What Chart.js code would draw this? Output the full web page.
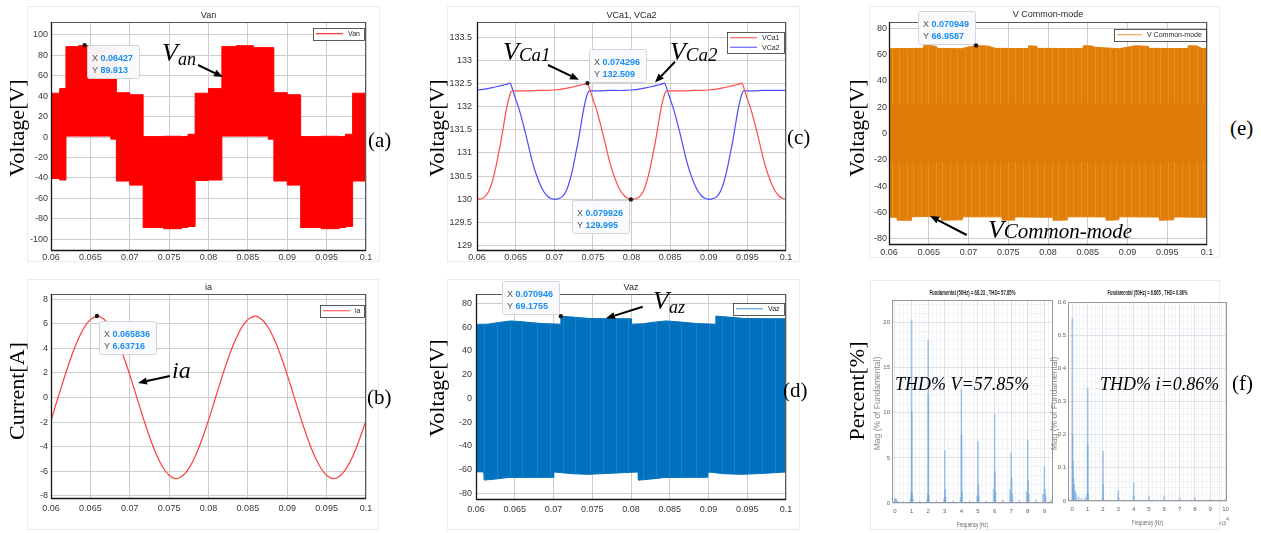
<!DOCTYPE html>
<html><head><meta charset="utf-8">
<script src="https://cdn.jsdelivr.net/npm/chart.js@4.4.1/dist/chart.umd.min.js"></script>
<style>
body{margin:0;background:#fff;width:1261px;height:533px;overflow:hidden;position:relative;}
canvas{position:absolute;}
.frame{position:absolute;border:1px solid #ececec;box-sizing:border-box;}
.yl{position:absolute;transform:translate(-50%,-50%) rotate(-90deg);white-space:nowrap;font-size:22px;font-family:"Liberation Serif",serif;color:#000;}
.pl{position:absolute;transform:translate(0,-50%);font-size:21px;font-family:"Liberation Serif",serif;color:#000;white-space:nowrap;}
</style></head>
<body>
<div class="frame" style="left:27px;top:6px;width:353px;height:256px"></div>
<div class="frame" style="left:27px;top:279px;width:352px;height:251px"></div>
<div class="frame" style="left:447px;top:6px;width:353px;height:256px"></div>
<div class="frame" style="left:447px;top:279px;width:353px;height:251px"></div>
<div class="frame" style="left:869px;top:6px;width:351px;height:252px"></div>
<div class="frame" style="left:870px;top:280px;width:350px;height:250px"></div>

<canvas id="ca"></canvas>
<canvas id="cb"></canvas>
<canvas id="cc"></canvas>
<canvas id="cd"></canvas>
<canvas id="ce"></canvas>
<canvas id="cf1"></canvas>
<canvas id="cf2"></canvas>

<div class="yl" style="left:17px;top:128px">Voltage[V]</div>
<div class="yl" style="left:437px;top:128px">Voltage[V]</div>
<div class="yl" style="left:857px;top:128px">Voltage[V]</div>
<div class="yl" style="left:17px;top:391px">Current[A]</div>
<div class="yl" style="left:437px;top:388px">Voltage[V]</div>
<div class="yl" style="left:857px;top:391px">Percent[%]</div>
<div class="pl" style="left:368px;top:140px">(a)</div>
<div class="pl" style="left:787px;top:137px">(c)</div>
<div class="pl" style="left:1230px;top:128px">(e)</div>
<div class="pl" style="left:367px;top:397px">(b)</div>
<div class="pl" style="left:783px;top:390px">(d)</div>
<div class="pl" style="left:1232px;top:383px">(f)</div>

<script>
// ---------------- DATA ----------------
const timeTicks = [0.06, 0.065, 0.07, 0.075, 0.08, 0.085, 0.09, 0.095, 0.1];

// (a) Van : PWM band, segment start times with upper / lower envelope (held until next time)
const vanT     = [0.0600, 0.0611, 0.0619, 0.0635, 0.0657, 0.0676, 0.0683, 0.0700, 0.0717, 0.0743, 0.0766, 0.0774, 0.0783, 0.0800, 0.0817, 0.0835, 0.0857, 0.0876, 0.0883, 0.0900, 0.0917, 0.0943, 0.0966, 0.0974, 0.0983, 0.1000];
const vanUpper = [43.0, 47.5, 88.6, 89.5, 87.6, 87.6, 43.5, 41.5, 0.5, 0.8, 0.5, 2.8, 43.0, 47.5, 88.6, 89.5, 87.6, 87.6, 43.5, 41.5, 0.5, 0.8, 0.5, 2.8, 43.0, 43.0];
const vanLower = [-40.5, -42.0, 1.0, 1.0, 1.0, -2.0, -43.0, -47.0, -88.5, -89.7, -88.5, -87.5, -42.5, -42.0, 1.0, 1.0, 1.0, -2.0, -43.0, -47.0, -88.5, -89.7, -88.5, -87.5, -43.0, -43.0];
const vanYTicks = [-100, -80, -60, -40, -20, 0, 20, 40, 60, 80, 100];

// (b) ia
const iaT = [0.0600,0.0605,0.0610,0.0615,0.0620,0.0625,0.0630,0.0635,0.0640,0.0645,0.0650,0.0655,0.0660,0.0665,0.0670,0.0675,0.0680,0.0685,0.0690,0.0695,
             0.0700,0.0705,0.0710,0.0715,0.0720,0.0725,0.0730,0.0735,0.0740,0.0745,0.0750,0.0755,0.0760,0.0765,0.0770,0.0775,0.0780,0.0785,0.0790,0.0795,
             0.0800,0.0805,0.0810,0.0815,0.0820,0.0825,0.0830,0.0835,0.0840,0.0845,0.0850,0.0855,0.0860,0.0865,0.0870,0.0875,0.0880,0.0885,0.0890,0.0895,
             0.0900,0.0905,0.0910,0.0915,0.0920,0.0925,0.0930,0.0935,0.0940,0.0945,0.0950,0.0955,0.0960,0.0965,0.0970,0.0975,0.0980,0.0985,0.0990,0.0995,0.1000];
const iaVal = [-1.90,-0.83,0.21,1.24,2.24,3.18,4.05,4.81,5.46,5.97,6.34,6.55,6.62,6.48,6.21,5.78,5.22,4.52,3.71,2.81,
               1.84,0.83,-0.21,-1.24,-2.24,-3.18,-4.05,-4.81,-5.46,-5.97,-6.34,-6.55,-6.60,-6.48,-6.21,-5.78,-5.22,-4.52,-3.71,-2.81,
               -1.84,-0.83,0.21,1.24,2.24,3.18,4.05,4.81,5.46,5.97,6.34,6.55,6.62,6.48,6.21,5.78,5.22,4.52,3.71,2.81,
               1.84,0.83,-0.21,-1.24,-2.24,-3.18,-4.05,-4.81,-5.46,-5.97,-6.34,-6.55,-6.60,-6.48,-6.21,-5.78,-5.22,-4.52,-3.71,-2.81,-1.88];
const iaYTicks = [-8, -6, -4, -2, 0, 2, 4, 6, 8];

// (c) VCa1, VCa2
const vca1T = [0.0600,0.0603,0.0607,0.0610,0.0613,0.0616,0.0619,0.0622,0.0625,0.0628,0.0631,0.0634,0.0637,0.0640,0.0643,
               0.0645,0.0650,0.0660,0.0670,0.0680,0.0690,0.0700,0.0710,0.0720,0.0730,0.0738,0.0743,
               0.0747,0.0751,0.0755,0.0759,0.0763,0.0767,0.0771,0.0775,0.0779,0.0783,0.0787,0.0791,0.0795,0.0799,
               0.0803,0.0807,0.0810,0.0813,0.0816,0.0819,0.0822,0.0825,0.0828,0.0831,0.0834,0.0837,0.0840,0.0843,
               0.0845,0.0850,0.0860,0.0870,0.0880,0.0890,0.0900,0.0910,0.0920,0.0930,0.0938,0.0943,
               0.0947,0.0951,0.0955,0.0959,0.0963,0.0967,0.0971,0.0975,0.0979,0.0983,0.0987,0.0991,0.0995,0.1000];
const vca1V = [130.02,130.00,130.02,130.05,130.11,130.20,130.34,130.52,130.74,131.00,131.25,131.55,131.85,132.10,132.28,
               132.34,132.34,132.34,132.34,132.35,132.35,132.36,132.38,132.41,132.45,132.48,132.51,
               132.32,132.12,131.92,131.67,131.41,131.13,130.85,130.62,130.43,130.27,130.15,130.07,130.02,130.00,
               130.00,130.02,130.05,130.11,130.20,130.34,130.52,130.74,131.00,131.25,131.55,131.85,132.10,132.28,
               132.34,132.34,132.34,132.34,132.35,132.35,132.36,132.38,132.41,132.45,132.48,132.51,
               132.32,132.12,131.92,131.67,131.41,131.13,130.85,130.62,130.43,130.27,130.15,130.07,130.02,130.00];
const vca2T = [0.0600,0.0610,0.0620,0.0630,0.0638,0.0643,
               0.0647,0.0651,0.0655,0.0659,0.0663,0.0667,0.0671,0.0675,0.0679,0.0683,0.0687,0.0691,0.0695,0.0699,
               0.0703,0.0707,0.0710,0.0713,0.0716,0.0719,0.0722,0.0725,0.0728,0.0731,0.0734,0.0737,0.0740,0.0743,
               0.0745,0.0750,0.0760,0.0770,0.0780,0.0790,0.0800,0.0810,0.0820,0.0830,0.0838,0.0843,
               0.0847,0.0851,0.0855,0.0859,0.0863,0.0867,0.0871,0.0875,0.0879,0.0883,0.0887,0.0891,0.0895,0.0899,
               0.0903,0.0907,0.0910,0.0913,0.0916,0.0919,0.0922,0.0925,0.0928,0.0931,0.0934,0.0937,0.0940,0.0943,
               0.0945,0.0950,0.0960,0.0970,0.0980,0.0990,0.1000];
const vca2V = [132.36,132.38,132.41,132.45,132.48,132.51,
               132.32,132.12,131.92,131.67,131.41,131.13,130.85,130.62,130.43,130.27,130.15,130.07,130.02,130.00,
               130.00,130.02,130.05,130.11,130.20,130.34,130.52,130.74,131.00,131.25,131.55,131.85,132.10,132.28,
               132.34,132.34,132.34,132.35,132.35,132.35,132.36,132.38,132.41,132.45,132.48,132.51,
               132.32,132.12,131.92,131.67,131.41,131.13,130.85,130.62,130.43,130.27,130.15,130.07,130.02,130.00,
               130.00,130.02,130.05,130.11,130.20,130.34,130.52,130.74,131.00,131.25,131.55,131.85,132.10,132.28,
               132.34,132.34,132.34,132.35,132.35,132.35,132.35];
const vcaYTicks = [129, 129.5, 130, 130.5, 131, 131.5, 132, 132.5, 133, 133.5];

// (d) Vaz envelope
const vazUpT = [0.0600,0.0615,0.0630,0.0645,0.0660,0.0685,0.0709,0.07095,0.0728,0.0747,0.0800,0.08005,0.0815,0.0830,0.0845,0.0860,0.0885,0.0909,0.09095,0.0928,0.0947,0.1000];
const vazUpV = [62.3,62.5,64.0,65.2,64.5,63.0,62.5,69.2,68.3,67.2,67.0,62.5,62.8,64.2,65.2,64.5,63.0,62.5,69.3,68.3,67.2,67.0];
const vazLoT = [0.0600,0.0610,0.06105,0.0625,0.0642,0.0700,0.07005,0.0725,0.0745,0.0770,0.0809,0.08095,0.0825,0.0844,0.0899,0.08995,0.0920,0.0943,0.0970,0.1000];
const vazLoV = [-61.8,-62.0,-68.8,-68.0,-66.6,-66.5,-62.0,-63.5,-64.0,-63.2,-62.0,-68.9,-68.0,-66.6,-66.5,-62.0,-63.5,-64.0,-63.2,-62.0];
const v80Ticks = [-80, -60, -40, -20, 0, 20, 40, 60, 80];

// (e) V common-mode envelope (outer) and inner dense band
const vcmUpT = [0.0600,0.0643,0.06435,0.0652,0.0660,0.06605,0.0690,0.0709,0.0725,0.07335,0.0775,0.07755,0.0786,0.07865,0.0844,0.08445,0.0855,0.0859,0.0890,0.0909,0.0926,0.09265,0.0976,0.09765,0.0988,0.0993,0.1000];
const vcmUpV = [64.5,64.8,66.8,66.9,66.2,64.8,64.5,66.9,66.5,64.8,64.6,66.7,66.4,64.8,64.6,66.8,66.6,65.6,64.5,66.7,66.3,64.8,64.6,66.8,66.5,64.8,64.8];
const vcmLoT = [0.0600,0.0610,0.06105,0.0628,0.06285,0.0655,0.0666,0.06665,0.0692,0.06925,0.0742,0.07425,0.0758,0.07585,0.0806,0.08065,0.0824,0.08245,0.0873,0.08735,0.0889,0.08895,0.0940,0.09405,0.0958,0.09585,0.1000];
const vcmLoV = [-63.5,-63.5,-65.8,-65.8,-63.2,-62.8,-63.5,-65.8,-65.5,-63.2,-63.2,-65.8,-65.6,-63.3,-63.5,-65.8,-65.6,-63.2,-63.3,-65.8,-65.5,-63.2,-63.4,-65.8,-65.5,-63.3,-63.5];
const vcmInT  = [0.0600, 0.0700, 0.0800, 0.0900, 0.1000];
const vcmInUp = [22.5, 23.0, 22.8, 23.0, 22.6];
const vcmInLo = [-21.3, -21.6, -21.2, -21.5, -21.3];

// (f) spectra (frequency in x10^4 Hz, magnitude in % of fundamental)
const fvFreq = [0.00,0.04,0.08,0.15,0.50, 0.94,0.98,1.00,1.01,1.04,1.08,1.50, 1.94,1.98,2.00,2.01,2.04,2.50, 2.96,3.00,3.02,3.05,3.50,
                3.95,4.00,4.01,4.04,4.50, 4.95,5.00,5.02,5.05,5.50, 5.94,6.00,6.02,6.06,6.50, 6.93,7.00,7.03,7.07,7.50,
                7.93,8.00,8.02,8.07,8.50, 8.92,9.00,9.03,9.08,9.40];
const fvMag  = [0.40,0.50,0.35,0.20,0.15, 0.50,1.20,20.3,10.1,1.00,0.40,0.20, 0.40,1.00,18.0,12.0,0.90,0.20, 0.50,5.80,1.50,0.60,0.20,
                0.60,12.6,7.50,1.20,0.20, 0.80,6.80,2.00,0.80,0.20, 1.50,9.80,3.50,1.20,0.30, 1.50,5.50,2.80,1.00,0.30,
                1.20,7.00,2.50,1.00,0.30, 1.00,4.00,1.50,0.80,0.30];
const fiFreq = [0.00,0.02,0.05,0.08,0.12,0.18,0.25,0.40,0.60,0.85, 0.97,1.00,1.01,1.04, 1.97,2.00,2.02, 3.00,3.02, 4.00,4.02, 5.00,6.00,7.00,8.00,9.00,10.00];
const fiMag  = [0.55,0.20,0.12,0.07,0.05,0.03,0.02,0.012,0.008,0.010, 0.020,0.34,0.17,0.020, 0.010,0.15,0.05, 0.032,0.010, 0.055,0.015, 0.015,0.015,0.010,0.010,0.005,0.004];
const fvYTicks = [0, 5, 10, 15, 20];
const fiYTicks = [0, 0.1, 0.2, 0.3, 0.4, 0.5, 0.6];
const fvXTicks = [0, 1, 2, 3, 4, 5, 6, 7, 8, 9];
const fiXTicks = [0, 1, 2, 3, 4, 5, 6, 7, 8, 9, 10];

// ---------------- DRAWING ----------------
Chart.defaults.font.family = '"Liberation Sans", Arial, sans-serif';
const pts = (xs, ys) => xs.map((x, i) => ({x: x, y: ys[i]}));
const DEC = {};

// fill texture imitating PWM switching stripes (pure styling)
function stripePattern(canvasId, base, light, width, stripes) {
  const c = document.createElement('canvas'); c.width = width; c.height = 4;
  const g = c.getContext('2d'); g.fillStyle = base; g.fillRect(0, 0, width, 4);
  g.fillStyle = light; stripes.forEach(s => g.fillRect(s, 0, 1, 4));
  return document.getElementById(canvasId).getContext('2d').createPattern(c, 'repeat');
}

function drawArrow(ctx, x1, y1, x2, y2) {
  const ang = Math.atan2(y2 - y1, x2 - x1), L = 9, W = 3.6;
  const bx = x2 - L * Math.cos(ang), by = y2 - L * Math.sin(ang);
  ctx.strokeStyle = '#000'; ctx.lineWidth = 2;
  ctx.beginPath(); ctx.moveTo(x1, y1); ctx.lineTo(bx, by); ctx.stroke();
  ctx.fillStyle = '#000'; ctx.beginPath(); ctx.moveTo(x2, y2);
  ctx.lineTo(bx - W * Math.sin(ang), by + W * Math.cos(ang));
  ctx.lineTo(bx + W * Math.sin(ang), by - W * Math.cos(ang));
  ctx.closePath(); ctx.fill();
}
function drawParts(ctx, x, y, parts) {
  let cx = x;
  ctx.textAlign = 'left'; ctx.textBaseline = 'alphabetic'; ctx.fillStyle = '#000';
  parts.forEach(p => {
    ctx.font = 'italic ' + p.s + 'px "Liberation Serif"';
    ctx.fillText(p.t, cx, y + (p.dy || 0));
    cx += ctx.measureText(p.t).width;
  });
}
function drawTip(ctx, x, y, t) {
  ctx.font = '9px "Liberation Sans"'; const wl = ctx.measureText('X ').width;
  ctx.font = 'bold 9px "Liberation Sans"';
  const wv = Math.max(ctx.measureText(t.xs).width, ctx.measureText(t.ys).width);
  const w = Math.round(5 + wl + wv + 6), h = 33;
  const bx = Math.round(t.side[1] === 'r' ? x + t.gx : x - t.gx - w);
  const by = Math.round(t.side[0] === 'b' ? y + t.gy : y - t.gy - h);
  ctx.fillStyle = 'rgba(249,250,252,0.97)'; ctx.strokeStyle = '#d2d6dc'; ctx.lineWidth = 1;
  ctx.beginPath(); ctx.roundRect(bx + 0.5, by + 0.5, w, h, 2); ctx.fill(); ctx.stroke();
  ctx.textAlign = 'left'; ctx.textBaseline = 'alphabetic';
  [['X', t.xs, 16], ['Y', t.ys, 28]].forEach(r => {
    ctx.font = '9px "Liberation Sans"'; ctx.fillStyle = '#555';
    ctx.fillText(r[0], bx + 5, by + r[2]);
    ctx.font = 'bold 9px "Liberation Sans"'; ctx.fillStyle = '#1b8ef2';
    ctx.fillText(r[1], bx + 5 + wl, by + r[2]);
  });
  ctx.fillStyle = '#1a1a1a'; ctx.beginPath(); ctx.arc(x, y, 2.2, 0, Math.PI * 2); ctx.fill();
}
function drawLegend(ctx, a, lg, datasets) {
  const items = datasets.filter(d => d.label);
  ctx.font = '7px "Liberation Sans"';
  const tw = Math.max(...items.map(d => ctx.measureText(d.label).width));
  const w = Math.round(3 + lg.line + 5 + tw + 4), h = Math.round(2 + items.length * 9.5);
  const x = Math.round(a.right - lg.right - w), y = Math.round(a.top + lg.top);
  ctx.fillStyle = '#fff'; ctx.fillRect(x, y, w, h);
  ctx.strokeStyle = '#333'; ctx.lineWidth = 0.8; ctx.strokeRect(x + 0.5, y + 0.5, w, h);
  items.forEach((d, i) => {
    const cy = y + 1 + 4.75 + i * 9.5;
    ctx.strokeStyle = d.legendColor || d.borderColor; ctx.lineWidth = 1;
    ctx.beginPath(); ctx.moveTo(x + 3, cy); ctx.lineTo(x + 3 + lg.line, cy); ctx.stroke();
    ctx.fillStyle = '#262626'; ctx.textAlign = 'left'; ctx.textBaseline = 'middle';
    ctx.fillText(d.label, x + 3 + lg.line + 5, cy + 0.5);
  });
}

const decor = {
  id: 'decor',
  afterDatasetsDraw(chart) {
    const o = DEC[chart.canvas.id]; if (!o) return;
    const ctx = chart.ctx, a = chart.chartArea, X = chart.scales.x, Y = chart.scales.y;
    const px = v => X.getPixelForValue(v), py = v => Y.getPixelForValue(v);
    ctx.save();
    if (o.spec) {
      ctx.strokeStyle = '#9a9a9a'; ctx.lineWidth = 1;
      ctx.strokeRect(a.left + 0.5, a.top + 0.5, a.right - a.left - 1, a.bottom - a.top - 1);
    } else {
      ctx.strokeStyle = '#5a5a5a'; ctx.lineWidth = 1;
      ctx.strokeRect(a.left + 0.5, a.top + 0.5, a.right - a.left - 1, a.bottom - a.top - 1);
      ctx.strokeStyle = '#151515'; ctx.lineWidth = 1.3;
      ctx.beginPath(); ctx.moveTo(a.left + 0.5, a.top); ctx.lineTo(a.left + 0.5, a.bottom - 0.5); ctx.lineTo(a.right, a.bottom - 0.5); ctx.stroke();
    }
    if (o.title) {
      ctx.fillStyle = '#262626'; ctx.textAlign = 'center'; ctx.textBaseline = 'middle';
      if (o.spec) { ctx.font = 'bold 7px "Liberation Sans"'; ctx.fillText(o.title, (a.left + a.right) / 2, a.top - o.titleGap, o.titleW); }
      else { ctx.font = '9px "Liberation Sans"'; ctx.fillText(o.title, (a.left + a.right) / 2, a.top - o.titleGap); }
    }
    if (o.spec) {
      ctx.fillStyle = '#666'; ctx.font = '7px "Liberation Sans"'; ctx.textAlign = 'center'; ctx.textBaseline = 'middle';
      ctx.fillText('Frequency (Hz)', (a.left + a.right) / 2, a.bottom + 22, 31);
      ctx.save(); ctx.translate(a.left - o.ylabOff, (a.top + a.bottom) / 2 + 2); ctx.rotate(-Math.PI / 2);
      ctx.fillStyle = '#8a8a8a'; ctx.font = '8.5px "Liberation Sans"'; ctx.fillText('Mag (% of Fundamental)', 0, 0); ctx.restore();
      if (o.expo) {
        ctx.textAlign = 'right'; ctx.font = '5px "Liberation Sans"'; ctx.fillText('4', a.right + 2, a.bottom + 19);
        ctx.font = '6px "Liberation Sans"'; ctx.fillText('\u00d710', a.right - 1, a.bottom + 22, 7);
      }
    }
    (o.arrows || []).forEach(r => drawArrow(ctx, px(r[0]), py(r[1]), px(r[2]), py(r[3])));
    (o.texts || []).forEach(t => drawParts(ctx, px(t.x), py(t.y), t.parts));
    if (o.legend) drawLegend(ctx, a, o.legend, chart.data.datasets);
    (o.tips || []).forEach(t => drawTip(ctx, px(t.x), py(t.y), t));
    ctx.restore();
  }
};

const tickFont = {size: 9};
function timeScale(pad) {
  return {
    type: 'linear', min: 0.06, max: 0.1,
    afterBuildTicks: s => { s.ticks = timeTicks.map(v => ({value: v})); },
    ticks: {callback: v => String(+(+v).toFixed(3)), autoSkip: false, maxRotation: 0, padding: pad, color: '#383838', font: tickFont},
    grid: {color: '#cdcdcd', lineWidth: 1, drawTicks: false},
    border: {display: false}
  };
}
function valScale(min, max, ticks, pad) {
  return {
    type: 'linear', min: min, max: max,
    afterBuildTicks: s => { s.ticks = ticks.map(v => ({value: v})); },
    ticks: {callback: v => String(+(+v).toFixed(2)), autoSkip: false, padding: pad, color: '#383838', font: tickFont},
    grid: {color: '#cdcdcd', lineWidth: 1, drawTicks: false},
    border: {display: false}
  };
}
function specScale(min, max, major, minorStep, pad, digits) {
  const list = [];
  const start = Math.ceil(min / minorStep - 1e-9) * minorStep;
  for (let v = start; v <= max + 1e-9; v += minorStep) {
    const isMajor = major.some(m => Math.abs(m - v) < minorStep / 10);
    if (!isMajor) list.push({value: v, major: false});
  }
  major.forEach(m => list.push({value: m, major: true}));
  list.sort((p, q) => p.value - q.value);
  return {
    type: 'linear', min: min, max: max, offset: false,
    afterBuildTicks: s => { s.ticks = list.map(t => ({value: t.value, major: t.major})); },
    ticks: {callback: (v, i, arr) => (arr[i] && arr[i].major) ? String(+(+v).toFixed(digits)) : '',
            autoSkip: false, maxRotation: 0, padding: pad, color: '#606060', font: {size: 6}},
    grid: {offset: false, drawTicks: false,
           color: c => (c.tick && c.tick.major) ? '#d6dbe2' : '#eef1f5', lineWidth: 0.8},
    border: {display: false}
  };
}

function mk(id, g, type, datasets, xs, ys, dec) {
  const c = document.getElementById(id);
  c.width = g.w; c.height = g.h; c.style.left = g.x + 'px'; c.style.top = g.y + 'px';
  xs.afterFit = s => { s.height = g.y + g.h - g.b; };
  ys.afterFit = s => { s.width = g.l - g.x; };
  DEC[id] = dec;
  return new Chart(c, {
    type: type,
    data: {datasets: datasets},
    options: {
      responsive: false, devicePixelRatio: 1, animation: false,
      layout: {padding: {left: 0, top: g.t - g.y, right: g.x + g.w - g.r, bottom: 0}},
      scales: {x: xs, y: ys},
      elements: {point: {radius: 0}},
      plugins: {legend: {display: false}, tooltip: {enabled: false}, title: {display: false}}
    },
    plugins: [decor]
  });
}

// (a) Van
mk('ca', {x: 0, y: 0, w: 380, h: 266, l: 51, t: 22, r: 366, b: 251}, 'line', [
  {label: 'Van', data: pts(vanT, vanUpper), borderColor: '#ff0000', backgroundColor: '#ff0000', borderWidth: 1, stepped: true, fill: '+1', pointRadius: 0},
  {label: '', data: pts(vanT, vanLower), borderColor: '#ff0000', backgroundColor: '#ff0000', borderWidth: 1, stepped: true, fill: false, pointRadius: 0}
], timeScale(1), valScale(-111.5, 112.7, vanYTicks, 3), {
  title: 'Van', titleGap: 6, legend: {top: 6, right: 2, line: 27},
  tips: [{x: 0.06427, y: 89.913, xs: '0.06427', ys: '89.913', side: 'br', gx: 2, gy: 0}],
  texts: [{x: 0.0741, y: 74.5, parts: [{t: 'V', s: 26}, {t: 'an', s: 18, dy: 4}]}],
  arrows: [[0.07867, 70.6, 0.08184, 58.9]]
});

// (b) ia
mk('cb', {x: 0, y: 279, w: 380, h: 240, l: 51, t: 294, r: 366, b: 499}, 'line', [
  {label: 'ia', data: pts(iaT, iaVal), borderColor: 'rgb(255,60,60)', borderWidth: 1.2, tension: 0.3, fill: false, pointRadius: 0}
], timeScale(4), valScale(-8.27, 8.43, iaYTicks, 3), {
  title: 'ia', titleGap: 6, legend: {top: 11, right: 2, line: 27},
  tips: [{x: 0.065836, y: 6.63716, xs: '0.065836', ys: '6.63716', side: 'br', gx: 2, gy: 5}],
  texts: [{x: 0.07537, y: 1.56, parts: [{t: 'ia', s: 24}]}],
  arrows: [[0.07511, 1.75, 0.07105, 1.18]]
});

// (c) VCa1, VCa2
mk('cc', {x: 440, y: 0, w: 360, h: 266, l: 477, t: 22, r: 786, b: 251}, 'line', [
  {label: 'VCa1', data: pts(vca1T, vca1V), borderColor: 'rgb(255,75,75)', borderWidth: 1.2, tension: 0.2, fill: false, pointRadius: 0},
  {label: 'VCa2', data: pts(vca2T, vca2V), borderColor: 'rgb(75,75,255)', borderWidth: 1.2, tension: 0.2, fill: false, pointRadius: 0}
], timeScale(1), valScale(128.88, 133.83, vcaYTicks, 5), {
  title: 'VCa1, VCa2', titleGap: 6, legend: {top: 10, right: 2, line: 27},
  tips: [{x: 0.074296, y: 132.509, xs: '0.074296', ys: '132.509', side: 'ar', gx: 2, gy: 1},
         {x: 0.079926, y: 129.995, xs: '0.079926', ys: '129.995', side: 'bl', gx: 2, gy: 1}],
  texts: [{x: 0.06337, y: 133.01, parts: [{t: 'V', s: 26}, {t: 'Ca1', s: 19, dy: 1}]},
          {x: 0.08498, y: 133.01, parts: [{t: 'V', s: 26}, {t: 'Ca2', s: 19, dy: 1}]}],
  arrows: [[0.06919, 132.90, 0.07320, 132.58], [0.08563, 132.97, 0.08304, 132.52]]
});

// (d) Vaz
const blueTex = stripePattern('cd', '#0072BD', 'rgba(30,128,200,1)', 53, [4, 17, 29, 44]);
mk('cd', {x: 440, y: 279, w: 360, h: 240, l: 476, t: 294, r: 786, b: 500}, 'line', [
  {label: 'Vaz', data: pts(vazUpT, vazUpV), borderColor: '#0072BD', backgroundColor: blueTex, legendColor: '#3b8fd0', borderWidth: 1, fill: {value: -30}, pointRadius: 0},
  {label: '', data: pts(vazLoT, vazLoV), borderColor: '#0072BD', backgroundColor: blueTex, borderWidth: 1, fill: {value: 30}, pointRadius: 0}
], timeScale(4), valScale(-85.6, 87.9, v80Ticks, 4), {
  title: 'Vaz', titleGap: 6, legend: {top: 9, right: 2, line: 27},
  tips: [{x: 0.070946, y: 69.1755, xs: '0.070946', ys: '69.1755', side: 'al', gx: 2, gy: 2}],
  texts: [{x: 0.08284, y: 75.0, parts: [{t: 'V', s: 26}, {t: 'az', s: 18, dy: 4}]}],
  arrows: [[0.08151, 77.2, 0.07677, 67.4]]
});

// (e) V common-mode
const orangeTex = stripePattern('ce', 'rgb(224,126,8)', 'rgb(232,144,40)', 29, [3, 10, 18, 24]);
mk('ce', {x: 860, y: 0, w: 360, h: 262, l: 889, t: 22, r: 1207, b: 245}, 'line', [
  {label: '', data: pts(vcmInT, vcmInUp), borderColor: 'rgba(0,0,0,0)', backgroundColor: 'rgb(223,124,6)', borderWidth: 0, fill: '+1', pointRadius: 0},
  {label: '', data: pts(vcmInT, vcmInLo), borderColor: 'rgba(0,0,0,0)', borderWidth: 0, fill: false, pointRadius: 0},
  {label: 'V Common-mode', data: pts(vcmUpT, vcmUpV), borderColor: 'rgb(226,127,10)', backgroundColor: orangeTex, legendColor: 'rgb(236,150,50)', borderWidth: 1, fill: {value: -30}, pointRadius: 0},
  {label: '', data: pts(vcmLoT, vcmLoV), borderColor: 'rgb(226,127,10)', backgroundColor: orangeTex, borderWidth: 1, fill: {value: 30}, pointRadius: 0}
], timeScale(2), valScale(-84.6, 84.8, v80Ticks, 2), {
  title: 'V Common-mode', titleGap: 7, legend: {top: 7, right: 1, line: 25},
  tips: [{x: 0.070949, y: 66.9587, xs: '0.070949', ys: '66.9587', side: 'al', gx: 1, gy: 1}],
  texts: [{x: 0.07245, y: -79.5, parts: [{t: 'V', s: 26}, {t: 'Common-mode', s: 21}]}],
  arrows: [[0.06977, -77.0, 0.06516, -62.5]]
});

// (f) spectra
mk('cf1', {x: 866, y: 280, w: 196, h: 253, l: 892, t: 300, r: 1053, b: 503}, 'bar', [
  {label: '', data: pts(fvFreq, fvMag), backgroundColor: 'rgba(110,165,220,0.6)', barThickness: 1, borderWidth: 0}
], specScale(-0.18, 9.52, fvXTicks, 0.25, 5, 0), specScale(0, 22.5, fvYTicks, 1, 2, 0), {
  spec: true, title: 'Fundamental (50Hz) = 68.23 , THD= 57.85%', titleGap: 7, titleW: 86, ylabOff: 14,
  texts: [{x: 0.0, y: 12.5, parts: [{t: 'THD% V=57.85%', s: 18}]}]
});
mk('cf2', {x: 1050, y: 280, w: 190, h: 253, l: 1068, t: 302, r: 1227, b: 501}, 'bar', [
  {label: '', data: pts(fiFreq, fiMag), backgroundColor: 'rgba(110,165,220,0.6)', barThickness: 1, borderWidth: 0}
], specScale(-0.28, 10.09, fiXTicks, 0.25, 5, 0), specScale(0, 0.6, fiYTicks, 0.02, 2, 1), {
  spec: true, title: 'Fundamental (50Hz) = 6.865 , THD= 0.86%', titleGap: 9, titleW: 80, ylabOff: 13, expo: true,
  texts: [{x: 1.81, y: 0.335, parts: [{t: 'THD% i=0.86%', s: 18}]}]
});
</script>
</body></html>
